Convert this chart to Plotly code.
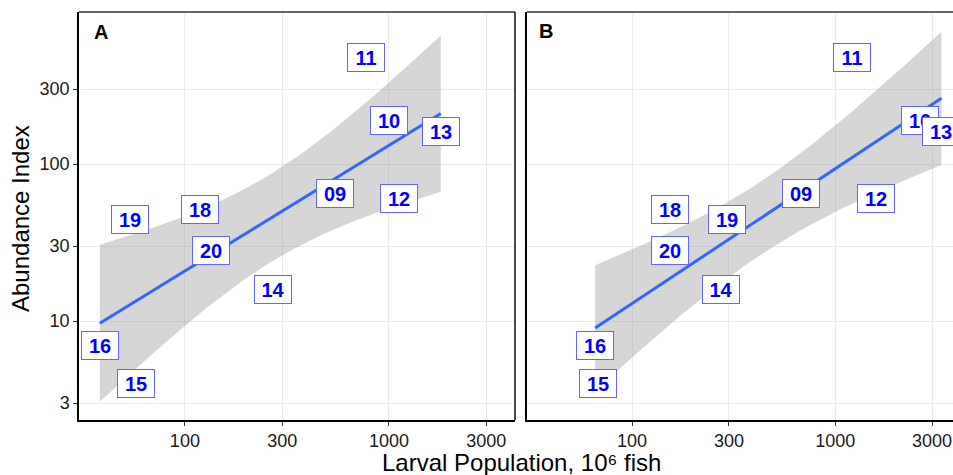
import numpy as np
import plotly.graph_objects as go

# ---------------- data ----------------
years = ["09", "10", "11", "12", "13", "14", "15", "16", "18", "19", "20"]
abundance = [64.7, 190, 475, 60.7, 162, 15.9, 3.99, 7.0, 51.4, 44.2, 28.0]
larvae_a = [547, 1000, 768, 1117, 1795, 270, 57.3, 38.3, 118, 53.7, 135]
larvae_b = [675, 2612, 1205, 1581, 3334, 274, 67.7, 65.8, 154, 292, 153.5]

x_ticks = [100, 300, 1000, 3000]
y_ticks = [3, 10, 30, 100, 300]
panel_tags = ["A", "B"]

FONT = "Liberation Sans, Arial, sans-serif"
W, H = 953, 475
ML, MT, MB, MR = 79, 12, 55, 0
PW = W - ML - MR
PH = H - MT - MB


def loglin_fit(x, y, n_pts=80, t_crit=2.262157):
    lx = np.log10(np.asarray(x, float))
    ly = np.log10(np.asarray(y, float))
    n = len(lx)
    slope, icpt = np.polyfit(lx, ly, 1)
    resid = ly - (icpt + slope * lx)
    s = np.sqrt(np.sum(resid ** 2) / (n - 2))
    xm = lx.mean()
    sxx = np.sum((lx - xm) ** 2)
    gx = np.linspace(lx.min(), lx.max(), n_pts)
    fit = icpt + slope * gx
    se = s * np.sqrt(1.0 / n + (gx - xm) ** 2 / sxx)
    return 10 ** gx, 10 ** fit, 10 ** (fit - t_crit * se), 10 ** (fit + t_crit * se)


fig = go.Figure()
annotations = []
shapes = []

panels = [("x", "y", larvae_a), ("x2", "y2", larvae_b)]
for i, (xa, ya, xs) in enumerate(panels):
    gx, fit, lo, hi = loglin_fit(xs, abundance)
    fig.add_trace(go.Scatter(
        x=np.concatenate([gx, gx[::-1]]), y=np.concatenate([hi, lo[::-1]]),
        fill="toself", fillcolor="rgba(153,153,153,0.4)", line=dict(width=0),
        mode="lines", hoverinfo="skip", showlegend=False, xaxis=xa, yaxis=ya))
    fig.add_trace(go.Scatter(
        x=gx, y=fit, mode="lines", line=dict(color="#3366FF", width=3),
        showlegend=False, xaxis=xa, yaxis=ya))
    for yr, xv, yv in zip(years, xs, abundance):
        annotations.append(dict(
            x=np.log10(xv), y=np.log10(yv), xref=xa, yref=ya, text="<b>%s</b>" % yr,
            showarrow=False, xanchor="center", yanchor="middle",
            font=dict(family=FONT, size=20, color="#0000FF"),
            bgcolor="white", bordercolor="#6464ff", borderwidth=1, borderpad=0,
            width=36, height=27))
    xd = "x domain" if xa == "x" else "x2 domain"
    yd = "y domain" if ya == "y" else "y2 domain"
    shapes.append(dict(type="line", xref=xd, yref=yd, x0=0, x1=1, y0=1, y1=1,
                       line=dict(color="#333333", width=1.3), layer="above"))
    if i == 0:
        shapes.append(dict(type="line", xref=xd, yref=yd, x0=1, x1=1, y0=0, y1=1,
                           line=dict(color="#111111", width=1.5), layer="above"))

# panel tags (pixel positions converted to paper coords)
for tag, px, py in zip(panel_tags, [101, 545.5], [32, 31]):
    annotations.append(dict(x=(px - ML) / PW, y=(H - MB - py) / PH, xref="paper", yref="paper",
                            text="<b>%s</b>" % tag, showarrow=False,
                            xanchor="center", yanchor="middle",
                            font=dict(family=FONT, size=20, color="black")))

# axis titles
annotations.append(dict(x=(521 - ML) / PW, y=(H - MB - 462) / PH, xref="paper", yref="paper",
                        text="Larval Population, 10\u2076 fish", showarrow=False,
                        xanchor="center", yanchor="middle",
                        font=dict(family=FONT, size=24, color="black")))
annotations.append(dict(x=(20 - ML) / PW, y=(H - MB - 219) / PH, xref="paper", yref="paper",
                        text="Abundance Index", showarrow=False, textangle=-90,
                        xanchor="center", yanchor="middle",
                        font=dict(family=FONT, size=24, color="black")))

axis_common = dict(type="log", showline=True, linecolor="black", linewidth=1.5,
                   ticks="outside", ticklen=4, tickwidth=1, tickcolor="#333333",
                   showgrid=True, gridcolor="#ebebeb", gridwidth=1, zeroline=False,
                   tickfont=dict(family=FONT, size=18, color="#1a1a1a"))

dom_a = [0, (515 - ML) / PW]
dom_b = [(527 - ML) / PW, 1]

fig.update_layout(
    width=W, height=H, margin=dict(l=ML, r=MR, t=MT, b=MB),
    plot_bgcolor="white", paper_bgcolor="white", showlegend=False,
    xaxis=dict(axis_common, domain=dom_a, range=[1.481, 3.618], anchor="y",
               tickvals=x_ticks, ticktext=[str(v) for v in x_ticks]),
    yaxis=dict(axis_common, domain=[0, 1], range=[0.37, 2.968], anchor="x",
               tickvals=y_ticks, ticktext=[str(v) for v in y_ticks]),
    xaxis2=dict(axis_common, domain=dom_b, range=[1.483, 3.580], anchor="y2",
                tickvals=x_ticks, ticktext=[str(v) for v in x_ticks]),
    yaxis2=dict(axis_common, domain=[0, 1], range=[0.37, 2.968], anchor="x2",
                tickvals=y_ticks, showticklabels=False, ticks=""),
    annotations=annotations, shapes=shapes,
)

fig.write_html("out.html")
